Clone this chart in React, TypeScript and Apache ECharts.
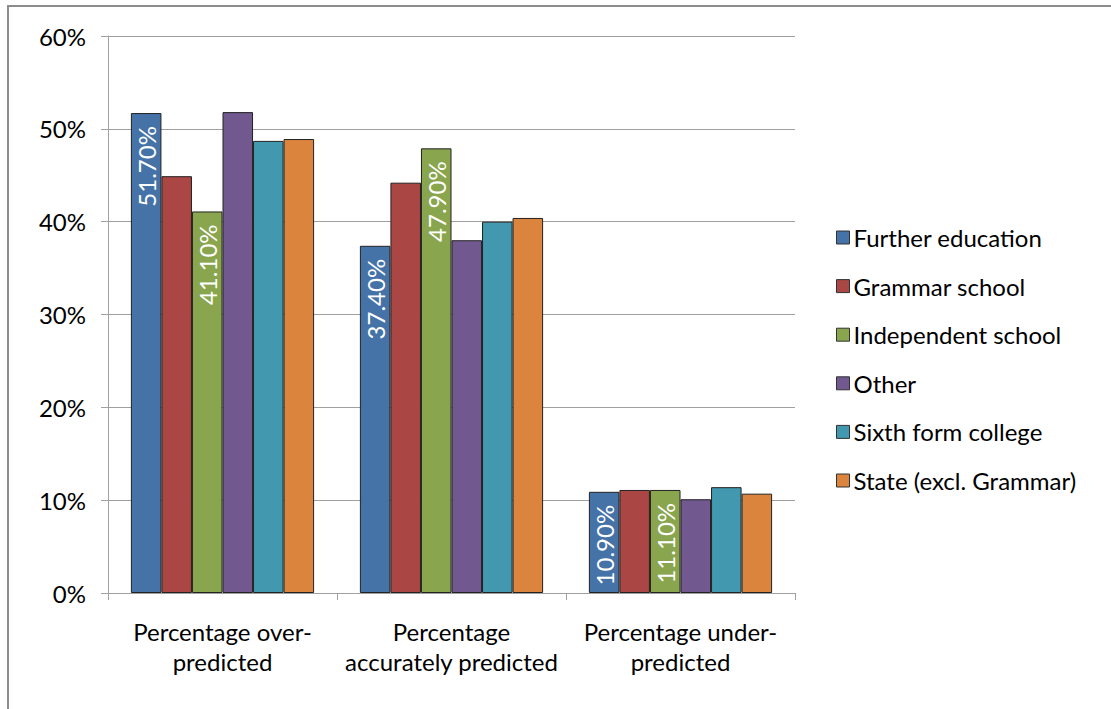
import React, { useEffect, useRef } from "react";
import * as echarts from "echarts";

const categories = [
  "Percentage over-\npredicted",
  "Percentage\naccurately predicted",
  "Percentage under-\npredicted",
];
const seriesNames = [
  "Further education",
  "Grammar school",
  "Independent school",
  "Other",
  "Sixth form college",
  "State (excl. Grammar)",
];
const furtherEducation = [51.7, 37.4, 10.9];
const grammarSchool = [44.9, 44.2, 11.1];
const independentSchool = [41.1, 47.9, 11.1];
const other = [51.8, 38.0, 10.1];
const sixthFormCollege = [48.7, 40.0, 11.4];
const stateExclGrammar = [48.9, 40.4, 10.7];
const yTicks = [0, 10, 20, 30, 40, 50, 60];

const colors = ["#4572A7", "#AA4643", "#89A54E", "#71588F", "#4198AF", "#DB843D"];
const labelled = [true, false, true, false, false, false];
const FONT = "Lato, 'Open Sans', sans-serif";

export default function App() {
  const ref = useRef<HTMLDivElement>(null);
  useEffect(() => {
    if (!ref.current) return;
    const chart = echarts.init(ref.current, null, { renderer: "svg" });
    const data = [
      furtherEducation,
      grammarSchool,
      independentSchool,
      other,
      sixthFormCollege,
      stateExclGrammar,
    ];
    chart.setOption({
      animation: false,
      backgroundColor: "#ffffff",
      textStyle: { fontFamily: FONT },
      graphic: [
        {
          type: "rect",
          shape: { x: 8, y: 6, width: 1300, height: 900 },
          style: { fill: "none", stroke: "#8c8c8c", lineWidth: 2 },
          silent: true,
        },
      ],
      grid: { left: 108, right: 316, top: 36, bottom: 116, containLabel: false },
      legend: {
        orient: "vertical",
        left: 836,
        top: 225,
        padding: 0,
        itemWidth: 13,
        itemHeight: 13,
        itemGap: 23.6,
        icon: "rect",
        data: seriesNames,
        itemStyle: { borderColor: "#333", borderWidth: 1 },
        textStyle: { fontFamily: FONT, fontSize: 24, color: "#000", lineHeight: 25, padding: [0, 0, 0, -1] },
      },
      xAxis: {
        type: "category",
        data: categories,
        axisLine: { show: true, lineStyle: { color: "#a0a0a0", width: 1 } },
        axisTick: { show: true, length: 7, lineStyle: { color: "#a0a0a0" } },
        axisLabel: {
          fontFamily: FONT,
          fontSize: 24,
          color: "#000",
          lineHeight: 30,
          margin: 23,
          interval: 0,
        },
      },
      yAxis: {
        type: "value",
        min: 0,
        max: 60,
        interval: 10,
        axisLine: { show: true, lineStyle: { color: "#a0a0a0", width: 1 } },
        axisTick: { show: true, length: 7, lineStyle: { color: "#a0a0a0" } },
        splitLine: { show: true, lineStyle: { color: "#a0a0a0", width: 1 } },
        axisLabel: {
          fontFamily: FONT,
          fontSize: 24,
          color: "#000",
          margin: 22,
          formatter: (v: number) => (yTicks.includes(v) ? `${v}%` : ""),
        },
      },
      series: seriesNames.map((name, i) => ({
        name,
        type: "bar",
        data: data[i],
        barGap: "0%",
        barCategoryGap: "20%",
        itemStyle: { color: colors[i], borderColor: "#222", borderWidth: 1 },
        label: labelled[i]
          ? {
              show: true,
              position: "insideTop",
              rotate: 90,
              align: "right",
              verticalAlign: "middle",
              distance: 13,
              color: "#fff",
              fontFamily: FONT,
              fontSize: 24,
              formatter: (p: any) => `${Number(p.value).toFixed(2)}%`,
            }
          : { show: false },
      })),
    });
    return () => chart.dispose();
  }, []);
  return (
    <div
      ref={ref}
      style={{ position: "absolute", left: 0, top: 0, width: 1111, height: 709 }}
    />
  );
}
